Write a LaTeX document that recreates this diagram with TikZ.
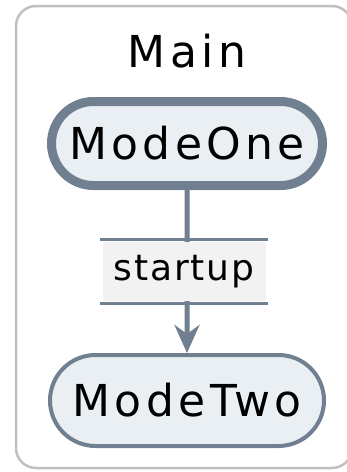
\documentclass[tikz,border=0pt]{standalone}
\usepackage{fontspec}
\setmainfont{DejaVu Sans}[LetterSpace=10]
\newfontfamily\edgefont{DejaVu Sans}[LetterSpace=5]
\usepackage{tikz}
\usetikzlibrary{arrows.meta,positioning,shapes.misc}
\definecolor{slate}{RGB}{112,128,144}
\definecolor{modefill}{RGB}{234,239,244}
\definecolor{framegray}{RGB}{192,192,192}
\definecolor{lblfill}{RGB}{242,242,242}

\begin{document}
\begin{tikzpicture}[
  x=1pt,y=-1pt,
  mode/.style={rounded rectangle,draw=slate,fill=modefill,inner sep=0pt,font=\fontsize{44}{50}\selectfont},
  lbl/.style={fill=lblfill,minimum width=163pt,minimum height=59pt,inner sep=0pt,font=\edgefont\fontsize{36}{40}\selectfont},
  rule/.style={draw=slate,line width=2.5pt},
  arr/.style={-{Stealth[length=28pt,width=25pt,inset=9pt]},draw=slate,line width=5pt}
]
\useasboundingbox (0,0) rectangle (347,472);
% cluster frame
\draw[framegray,line width=2.5pt,rounded corners=20pt] (16,6) rectangle (352,468);
\node[font=\fontsize{44}{50}\selectfont,anchor=base] (title) at (187,67) {Main};
\node[mode,line width=9pt,minimum width=271pt,minimum height=84pt] (one) at (187,143.5) {ModeOne};
\node[mode,line width=4pt,minimum width=274pt,minimum height=91pt,below=163pt of one] (two) {ModeTwo};
\draw[arr] (one) -- (two) node[lbl,midway,xshift=-3pt] (start) {startup};
\draw[rule] (start.north west) -- (start.north east);
\draw[rule] (start.south west) -- (start.south east);
\end{tikzpicture}
\end{document}
